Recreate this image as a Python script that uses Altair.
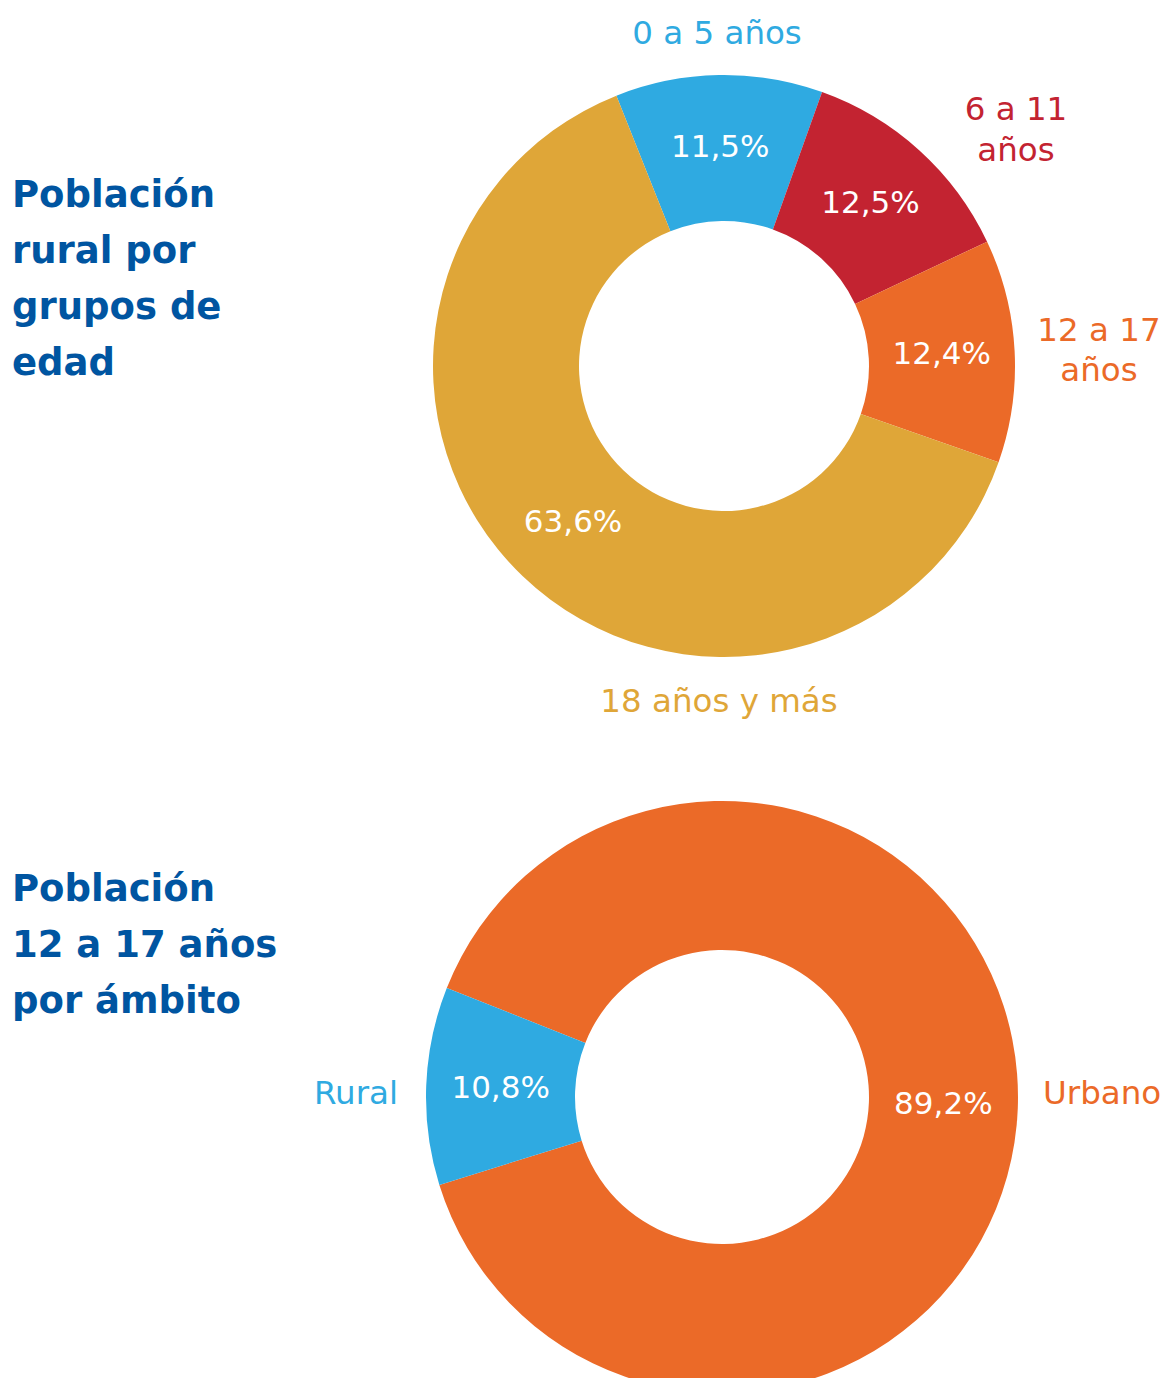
import altair as alt
import pandas as pd

# ---- data ----
grupos = ["0 a 5 años", "6 a 11 años", "12 a 17 años", "18 años y más"]
pct_grupos = [11.5, 12.5, 12.4, 63.6]
col_grupos = ["#2FAAE1", "#C32331", "#EB6A28", "#DFA638"]

ambitos = ["Urbano", "Rural"]
pct_ambito = [89.2, 10.8]
col_ambito = ["#EB6A28", "#2FAAE1"]

titulo1 = "Población\nrural por\ngrupos de\nedad"
titulo2 = "Población\n12 a 17 años\npor ámbito"

FONT = "DejaVu Sans"
TITLE_COLOR = "#0055A1"


def fmt(v):
    return f"{v:.1f}".replace(".", ",") + "%"


df1 = pd.DataFrame({"cat": grupos, "pct": pct_grupos, "idx": range(len(grupos))})
df1["lab"] = [fmt(v) for v in pct_grupos]
df2 = pd.DataFrame({"cat": ambitos, "pct": pct_ambito, "idx": range(len(ambitos))})
df2["lab"] = [fmt(v) for v in pct_ambito]

# ---- layout ----
C1 = (716, 358)
R1 = (145, 291)
START1 = 5.9044
C2 = (714, 1089)
R2 = (147, 296)
START2 = 5.0894
TWO_PI = 6.283185


def donut(df, cats, cols, center, radii, start):
    theta = alt.Theta("pct:Q", stack=True,
                      scale=alt.Scale(range=[start, start + TWO_PI]))
    base = alt.Chart(df).encode(
        theta=theta,
        order=alt.Order("idx:Q"),
        x=alt.value(center[0]),
        y=alt.value(center[1]),
    )
    arcs = base.mark_arc(innerRadius=radii[0], outerRadius=radii[1]).encode(
        color=alt.Color("cat:N", scale=alt.Scale(domain=cats, range=cols), legend=None)
    )
    labels = base.mark_text(
        radius=(radii[0] + radii[1]) / 2, font=FONT, fontSize=31,
        color="white", baseline="middle", align="center"
    ).encode(text="lab:N")
    return alt.layer(arcs, labels)


def label(text, x, y, color, align="center", lh=41, size=32.5):
    return alt.Chart(pd.DataFrame({"t": [text]})).mark_text(
        font=FONT, fontSize=size, color=color, align=align,
        baseline="alphabetic", lineBreak="\n", lineHeight=lh
    ).encode(text="t:N", x=alt.value(x), y=alt.value(y))


def title(text, y):
    return alt.Chart(pd.DataFrame({"t": [text]})).mark_text(
        font=FONT, fontSize=37, fontWeight="bold", color=TITLE_COLOR,
        align="left", baseline="alphabetic", lineBreak="\n", lineHeight=56
    ).encode(text="t:N", x=alt.value(4), y=alt.value(y))


top = donut(df1, grupos, col_grupos, C1, R1, START1)
bottom = donut(df2, ambitos, col_ambito, C2, R2, START2)

outer = [
    label(grupos[0], 709, 36, col_grupos[0]),
    label(grupos[1].replace(" años", "\naños"), 1008, 112, col_grupos[1]),
    label(grupos[2].replace(" años", "\naños"), 1091, 333, col_grupos[2], lh=40),
    label(grupos[3], 711, 704, col_grupos[3]),
    label(ambitos[1], 390, 1096, col_ambito[1], align="right"),
    label(ambitos[0], 1035, 1096, col_ambito[0], align="left"),
]

chart = alt.layer(
    top, bottom, title(titulo1, 199), title(titulo2, 893), *outer
).resolve_scale(
    theta="independent", color="independent"
).properties(
    width=1157, height=1370, autosize="none", padding=0
).configure_view(stroke=None)

chart.save("out.html", embed_options={"renderer": "svg", "actions": False})
